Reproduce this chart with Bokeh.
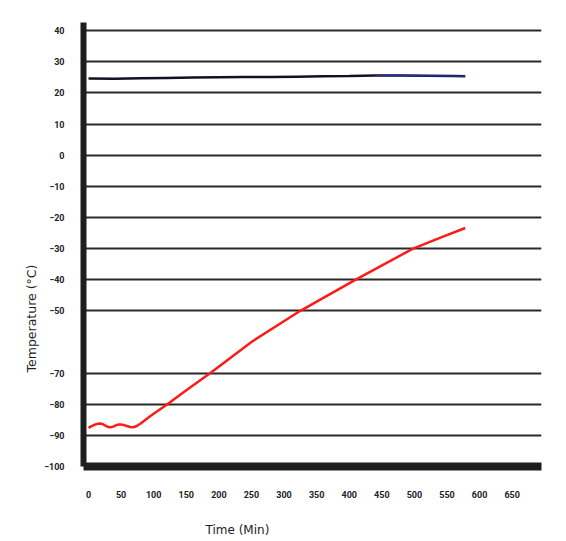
from bokeh.plotting import figure
from bokeh.models import FixedTicker, Range1d, Title
from bokeh.embed import file_html
from bokeh.resources import INLINE

# ---- data ----
time_ticks = [0, 50, 100, 150, 200, 250, 300, 350, 400, 450, 500, 550, 600, 650]
temp_ticks = [40, 30, 20, 10, 0, -10, -20, -30, -40, -50, -70, -80, -90, -100]

ambient_time = [0, 40, 80, 120, 160, 200, 240, 280, 320, 360, 400, 440, 480, 520, 560, 578]
ambient_temp = [24.6, 24.5, 24.7, 24.8, 24.9, 25.0, 25.1, 25.1, 25.2, 25.3, 25.4, 25.6, 25.6, 25.5, 25.4, 25.3]

cold_time = [0, 4, 9, 14, 18, 22, 26, 30, 34, 38, 42, 46, 49, 54, 59, 64, 69, 74, 80, 95,
             121, 150, 187, 250, 325, 410, 498, 540, 578]
cold_temp = [-87.6, -87.1, -86.6, -86.3, -86.2, -86.4, -86.9, -87.3, -87.4, -87.2, -86.8, -86.5,
             -86.5, -86.7, -87.0, -87.3, -87.4, -87.0, -86.2, -83.8,
             -80.0, -75.5, -70.0, -60.0, -50.0, -40.0, -30.0, -26.5, -23.4]

p = figure(width=566, height=541, output_backend="svg", toolbar_location=None,
           x_range=Range1d(-7.7, 695), y_range=Range1d(-100, 42.6),
           min_border_left=83, min_border_right=25, min_border_top=22, min_border_bottom=75)
p.outline_line_color = None
p.background_fill_color = "white"
p.border_fill_color = "white"

# axes
p.xaxis.ticker = FixedTicker(ticks=time_ticks)
p.yaxis.ticker = FixedTicker(ticks=temp_ticks)
for ax in (p.xaxis, p.yaxis):
    ax.axis_line_color = "#1e1e1e"
    ax.major_tick_line_color = None
    ax.minor_tick_line_color = None
    ax.major_label_text_font = "Roboto"
    ax.major_label_text_font_style = "bold"
    ax.major_label_text_font_size = "9px"
    ax.major_label_text_color = "#222222"
p.yaxis.axis_line_width = 6
p.xaxis.axis_line_width = 8
p.yaxis.major_label_standoff = 13
p.xaxis.major_label_standoff = 18

p.xgrid.visible = False
p.ygrid.grid_line_color = "#2a2a2a"
p.ygrid.grid_line_width = 2

# series
p.line(ambient_time, ambient_temp, line_color="#111122", line_width=2.5)
p.line(ambient_time[-5:], ambient_temp[-5:], line_color="#2a2a9a", line_width=1.5)
p.line(cold_time, cold_temp, line_color="#ff1a1a", line_width=2.5)

# axis titles placed like the reference
p.add_layout(Title(text="Temperature (°C)", align="left", offset=94, standoff=5,
                   text_font="DejaVu Sans", text_font_size="12.5px",
                   text_font_style="normal", text_color="#222222"), "left")
p.add_layout(Title(text=" ", text_font_size="3px"), "below")
p.add_layout(Title(text="Time (Min)", align="left", offset=122,
                   text_font="DejaVu Sans", text_font_size="12px",
                   text_font_style="normal", text_color="#222222"), "below")

open("out.html", "w").write(file_html(p, INLINE))
